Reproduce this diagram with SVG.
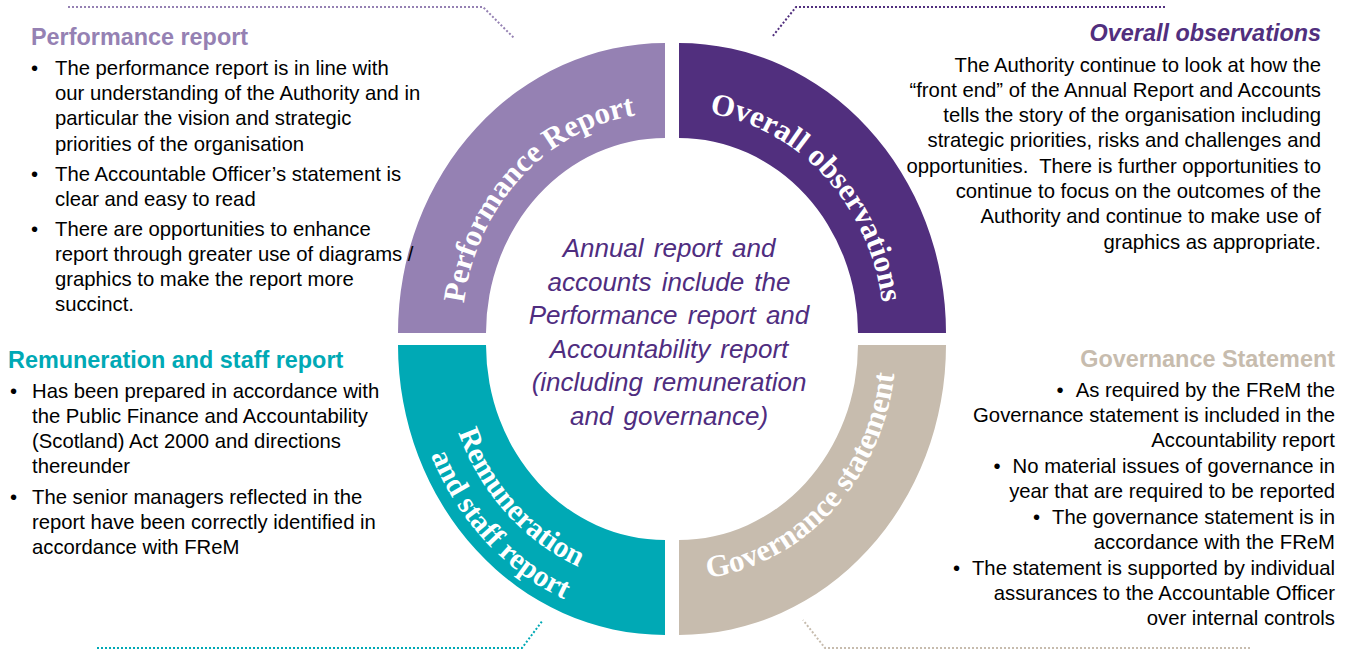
<svg xmlns="http://www.w3.org/2000/svg" width="1351" height="650" viewBox="0 0 1351 650">
<style>
.body{font-family:"Liberation Sans",Arial,sans-serif;font-size:20.3px;fill:#000}
.r{text-anchor:end}
.head{font-family:"Liberation Sans",Arial,sans-serif;font-size:23.4px;font-weight:bold}
.arc{font-family:"Liberation Serif","Times New Roman",serif;font-weight:bold;fill:#fff}
.center{font-family:"Liberation Sans",Arial,sans-serif;font-size:26px;font-style:italic;fill:#4F2D7F;word-spacing:3px;text-anchor:middle}
.dot{fill:none;stroke-width:2;stroke-dasharray:2 2}
</style>
<defs>
<path id="pPerf" d="M462,333 A203,220 0 0 1 665,113"/>
<path id="pOver" d="M679,111 A205,222 0 0 1 884,333"/>
<path id="pRem1" d="M443,345 A222,241 0 0 0 665,586"/>
<path id="pRem2" d="M410,345 A255,277 0 0 0 665,622"/>
<path id="pGov" d="M679,580 A217,235 0 0 0 896,345"/>
</defs>

<g id="connectors">
<polyline class="dot" stroke="#9581B3" points="68,7 483,7 514,38"/>
<polyline class="dot" stroke="#512F7E" points="1165,7 796,7 772,37"/>
<polyline class="dot" stroke="#00A9B5" points="97,648 522,648 543,620"/>
<polyline class="dot" stroke="#C7BCAE" points="1250,648 825,648 803,620"/>
</g>

<g id="ring-performance">
<path fill="#9581B3" d="M398,333 A267,290 0 0 1 665,43 L665,138 A179,195 0 0 0 486,333 Z"/>
<text class="arc" font-size="31"><textPath href="#pPerf" startOffset="50%" text-anchor="middle">Performance Report</textPath></text>
</g>
<g id="ring-overall">
<path fill="#512F7E" d="M679,43 A267,290 0 0 1 946,333 L858,333 A179,195 0 0 0 679,138 Z"/>
<text class="arc" font-size="31"><textPath href="#pOver" startOffset="50%" text-anchor="middle">Overall observations</textPath></text>
</g>
<g id="ring-remuneration">
<path fill="#00A9B5" d="M398,345 L486,345 A179,195 0 0 0 665,540 L665,635 A267,290 0 0 1 398,345 Z"/>
<text class="arc" font-size="30"><textPath href="#pRem1" startOffset="50%" text-anchor="middle">Remuneration</textPath></text>
<text class="arc" font-size="30"><textPath href="#pRem2" startOffset="51%" text-anchor="middle">and staff report</textPath></text>
</g>
<g id="ring-governance">
<path fill="#C7BCAE" d="M679,540 A179,195 0 0 0 858,345 L946,345 A267,290 0 0 1 679,635 Z"/>
<text class="arc" font-size="31"><textPath href="#pGov" startOffset="50%" text-anchor="middle">Governance statement</textPath></text>
</g>

<g id="center-text">
<text class="center" x="669" y="257">Annual report and</text>
<text class="center" x="669" y="290.5">accounts include the</text>
<text class="center" x="669" y="324">Performance report and</text>
<text class="center" x="669" y="357.5">Accountability report</text>
<text class="center" x="669" y="391">(including remuneration</text>
<text class="center" x="669" y="424.5">and governance)</text>
</g>

<g id="performance-report">
<text class="head" x="31" y="45" fill="#9581B3">Performance report</text>
<text class="body" x="31" y="75">•</text><text class="body" x="55" y="75">The performance report is in line with</text>
<text class="body" x="55" y="100.2">our understanding of the Authority and in</text>
<text class="body" x="55" y="125.4">particular the vision and strategic</text>
<text class="body" x="55" y="150.6">priorities of the organisation</text>
<text class="body" x="31" y="180.6">•</text><text class="body" x="55" y="180.6">The Accountable Officer’s statement is</text>
<text class="body" x="55" y="205.8">clear and easy to read</text>
<text class="body" x="31" y="235.8">•</text><text class="body" x="55" y="235.8">There are opportunities to enhance</text>
<text class="body" x="55" y="261">report through greater use of diagrams /</text>
<text class="body" x="55" y="286.2">graphics to make the report more</text>
<text class="body" x="55" y="311.4">succinct.</text>
</g>

<g id="overall-observations">
<text class="head r" x="1321" y="41" fill="#512F7E" font-style="italic">Overall observations</text>
<text class="body r" x="1321" y="71.5">The Authority continue to look at how the</text>
<text class="body r" x="1321" y="96.8">“front end” of the Annual Report and Accounts</text>
<text class="body r" x="1321" y="122.1">tells the story of the organisation including</text>
<text class="body r" x="1321" y="147.4">strategic priorities, risks and challenges and</text>
<text class="body r" x="1321" y="172.7" xml:space="preserve">opportunities.  There is further opportunities to</text>
<text class="body r" x="1321" y="198">continue to focus on the outcomes of the</text>
<text class="body r" x="1321" y="223.3">Authority and continue to make use of</text>
<text class="body r" x="1321" y="248.6">graphics as appropriate.</text>
</g>

<g id="remuneration-report">
<text class="head" x="8" y="368" fill="#00A9B5">Remuneration and staff report</text>
<text class="body" x="10" y="398.3">•</text><text class="body" x="32" y="398.3">Has been prepared in accordance with</text>
<text class="body" x="32" y="423.3">the Public Finance and Accountability</text>
<text class="body" x="32" y="448.3">(Scotland) Act 2000 and directions</text>
<text class="body" x="32" y="473.3">thereunder</text>
<text class="body" x="10" y="504">•</text><text class="body" x="32" y="504">The senior managers reflected in the</text>
<text class="body" x="32" y="529">report have been correctly identified in</text>
<text class="body" x="32" y="554">accordance with FReM</text>
</g>

<g id="governance-statement">
<text class="head r" x="1335" y="367" fill="#C7BCAE">Governance Statement</text>
<text class="body r" x="1335" y="396.7">•<tspan dx="12">As required by the FReM the</tspan></text>
<text class="body r" x="1335" y="421.7">Governance statement is included in the</text>
<text class="body r" x="1335" y="446.7">Accountability report</text>
<text class="body r" x="1335" y="473.3">•<tspan dx="12">No material issues of governance in</tspan></text>
<text class="body r" x="1335" y="498.3">year that are required to be reported</text>
<text class="body r" x="1335" y="524">•<tspan dx="12">The governance statement is in</tspan></text>
<text class="body r" x="1335" y="549.3">accordance with the FReM</text>
<text class="body r" x="1335" y="575">•<tspan dx="12">The statement is supported by individual</tspan></text>
<text class="body r" x="1335" y="600">assurances to the Accountable Officer</text>
<text class="body r" x="1335" y="625">over internal controls</text>
</g>
</svg>
